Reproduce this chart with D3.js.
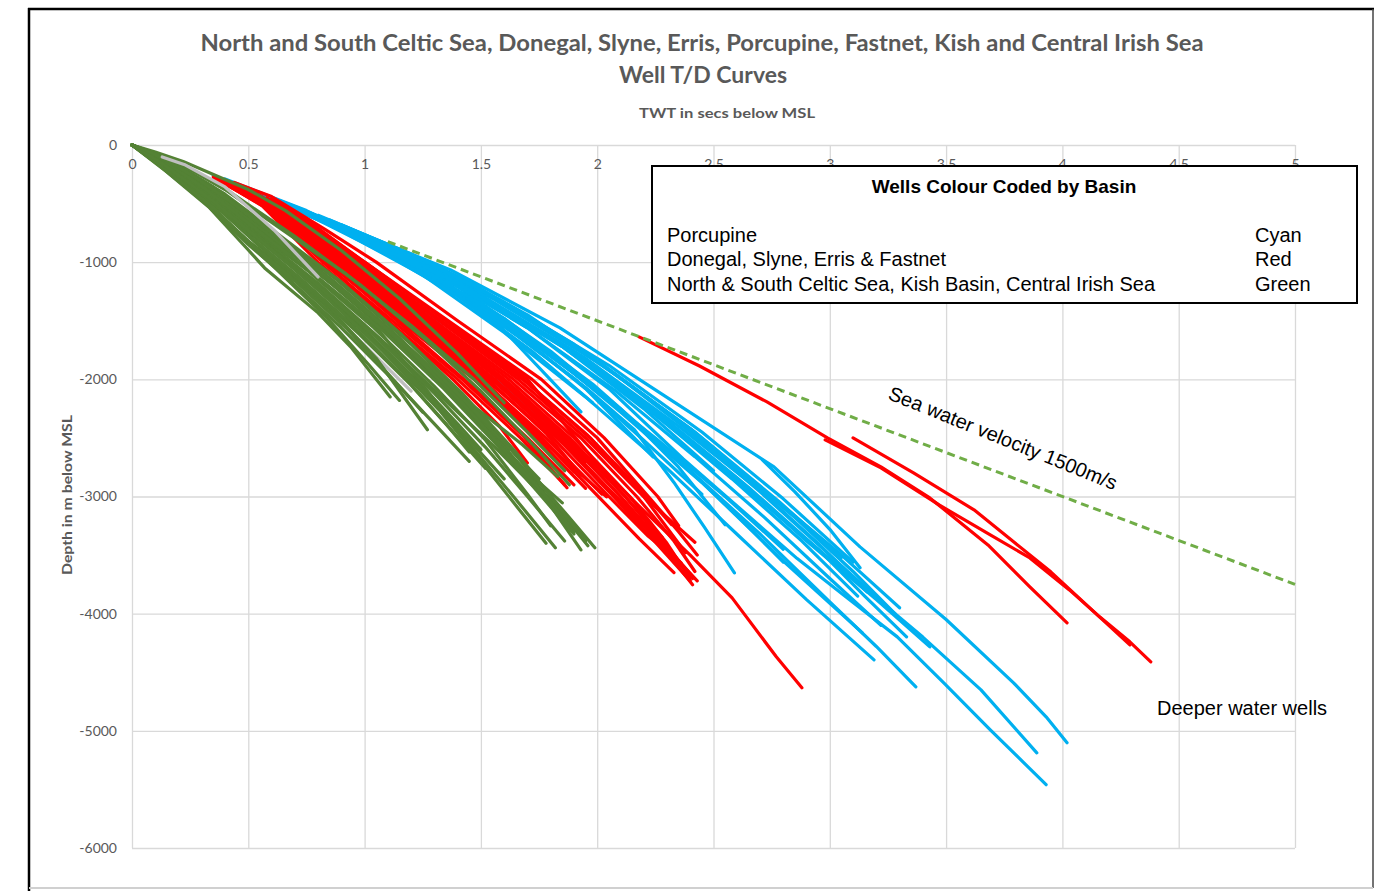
<!DOCTYPE html>
<html>
<head>
<meta charset="utf-8">
<script src="https://cdn.jsdelivr.net/npm/d3@7"></script>
<style>
  html, body { margin: 0; padding: 0; background: #fff; }
  svg { display: block; }
</style>
</head>
<body>
<svg id="chart" width="1389" height="891"></svg>
<script>
// Axis ticks
const xTickValues = [0, 0.5, 1, 1.5, 2, 2.5, 3, 3.5, 4, 4.5, 5];
const xTickLabels = ["0", "0.5", "1", "1.5", "2", "2.5", "3", "3.5", "4", "4.5", "5"];
const yTickValues = [0, -1000, -2000, -3000, -4000, -5000, -6000];
const yTickLabels = ["0", "-1000", "-2000", "-3000", "-4000", "-5000", "-6000"];

// Well time-depth curves: [TWT secs, depth m]
const porcupineWells = [
  [[0.45,-335],[0.7,-525],[0.98,-751],[1.37,-1067],[1.84,-1561],[2.27,-2116],[2.76,-2747],[3.13,-3430],[3.5,-4050],[3.79,-4590],[3.93,-4880],[4.02,-5102]],
  [[0.5,-370],[0.9,-690],[1.3,-1080],[1.7,-1560],[2.05,-2080],[2.37,-2680],[2.67,-3200],[2.86,-3530],[3.07,-3857],[3.29,-4198],[3.49,-4590],[3.69,-4991],[3.93,-5460]],
  [[0.55,-410],[0.95,-730],[1.35,-1110],[1.78,-1620],[2.15,-2150],[2.5,-2700],[2.8,-3200],[3.1,-3700],[3.4,-4200],[3.65,-4650],[3.89,-5188]],
  [[0.5,-380],[0.9,-700],[1.3,-1120],[1.7,-1640],[2.05,-2180],[2.4,-2780],[2.7,-3320],[3.0,-3900],[3.2,-4280],[3.37,-4624]],
  [[0.45,-340],[0.85,-680],[1.25,-1110],[1.6,-1600],[1.95,-2150],[2.3,-2760],[2.6,-3320],[2.9,-3880],[3.19,-4394]],
  [[0.6,-450],[1.0,-780],[1.4,-1180],[1.85,-1700],[2.25,-2280],[2.6,-2840],[2.9,-3380],[3.2,-3880],[3.43,-4283]],
  [[0.65,-490],[1.05,-820],[1.45,-1230],[1.9,-1760],[2.3,-2350],[2.65,-2920],[2.95,-3450],[3.15,-3850],[3.33,-4198]],
  [[0.55,-420],[0.95,-760],[1.35,-1180],[1.75,-1700],[2.1,-2280],[2.45,-2880],[2.8,-3550],[3.14,-4164]],
  [[0.7,-530],[1.1,-860],[1.5,-1280],[1.95,-1820],[2.35,-2400],[2.7,-2950],[2.95,-3400],[3.16,-3814]],
  [[2.71,-2688],[2.85,-2960],[3.0,-3280],[3.13,-3609]],
  [[0.5,-390],[0.9,-720],[1.3,-1140],[1.65,-1620],[1.95,-2070],[2.16,-2430],[2.33,-2880],[2.46,-3260],[2.59,-3652]],
  [[0.6,-460],[1.0,-790],[1.4,-1210],[1.8,-1760],[2.1,-2250],[2.35,-2750],[2.55,-3242]],
  [[0.4,-300],[0.8,-620],[1.2,-1010],[1.55,-1480],[1.93,-2278]],
  [[0.45,-340],[0.85,-660],[1.25,-1060],[1.6,-1520],[1.95,-2080],[2.24,-2662]],
  [[0.35,-260],[0.65,-530],[0.95,-960],[1.25,-1400],[1.55,-1950],[1.84,-2491]],
  [[0.4,-290],[0.75,-560],[1.1,-900],[1.45,-1300],[1.75,-1720]],
  [[0.5,-370],[0.95,-740],[1.4,-1180],[1.85,-1720],[2.2,-2250],[2.5,-2780]],
  [[0.75,-570],[1.15,-900],[1.55,-1310],[2.0,-1850],[2.4,-2420],[2.75,-3000],[3.05,-3500],[3.3,-3950]],
  [[0.85,-640],[1.25,-980],[1.65,-1400],[2.05,-1880],[2.45,-2450],[2.8,-3020],[3.1,-3560]],
  [[0.35,-260],[0.75,-590],[1.15,-990],[1.55,-1470],[1.9,-1990],[2.2,-2520],[2.45,-2980]],
  [[0.9,-680],[1.3,-1020],[1.7,-1450],[2.1,-1990],[2.5,-2600],[2.85,-3180],[3.1,-3640],[3.28,-4000]],
  [[0.6,-450],[1.0,-770],[1.45,-1170],[1.9,-1700],[2.3,-2280],[2.7,-2960],[3.0,-3500],[3.25,-3950]],
  [[0.4,-300],[0.78,-600],[1.15,-950],[1.52,-1400],[1.9,-1950],[2.25,-2500],[2.55,-3000],[2.8,-3450]],
  [[0.55,-410],[0.92,-720],[1.3,-1090],[1.7,-1560],[2.08,-2100],[2.42,-2660],[2.72,-3180],[3.0,-3700],[3.22,-4100]],
  [[0.65,-490],[1.02,-800],[1.42,-1200],[1.85,-1720],[2.25,-2300],[2.58,-2850],[2.88,-3380],[3.12,-3850]],
  [[0.45,-340],[0.82,-640],[1.2,-1000],[1.6,-1480],[1.98,-2040],[2.3,-2600],[2.58,-3120],[2.8,-3560]],
  [[0.8,-600],[1.2,-930],[1.6,-1340],[2.02,-1870],[2.42,-2450],[2.78,-3040],[3.05,-3520]],
  [[0.38,-285],[0.72,-560],[1.05,-880],[1.4,-1290],[1.72,-1760],[1.98,-2200]]
];

const donegalWells = [
  [[0.42,-340],[0.7,-640],[1.0,-1000],[1.35,-1500],[1.7,-2000],[2.01,-2747],[2.2,-3120],[2.4,-3500],[2.58,-3865],[2.77,-4368],[2.88,-4633]],
  [[0.45,-360],[0.65,-580],[0.92,-1000],[1.25,-1500],[1.58,-2000],[1.85,-2480],[2.1,-3000],[2.27,-3400],[2.41,-3754]],
  [[0.5,-400],[0.68,-620],[0.95,-1000],[1.28,-1500],[1.6,-2000],[1.88,-2500],[2.12,-3000],[2.28,-3380],[2.41,-3686]],
  [[0.4,-310],[0.6,-540],[0.88,-1000],[1.2,-1500],[1.52,-2000],[1.8,-2480],[2.05,-3000],[2.22,-3340],[2.36,-3566]],
  [[0.55,-440],[0.72,-660],[0.97,-1000],[1.32,-1500],[1.66,-2000],[1.95,-2500],[2.2,-3000],[2.42,-3390]],
  [[0.38,-300],[0.58,-530],[0.84,-1000],[1.15,-1500],[1.47,-2000],[1.75,-2500],[2.04,-3003]],
  [[0.35,-280],[0.57,-520],[0.82,-1000],[1.12,-1500],[1.42,-2000],[1.68,-2480],[1.87,-2926]],
  [[0.5,-400],[0.66,-600],[0.9,-1000],[1.22,-1500],[1.53,-2000],[1.78,-2460],[1.93,-2816]],
  [[0.4,-320],[0.6,-560],[0.83,-1000],[1.1,-1500],[1.38,-2000],[1.58,-2400],[1.7,-2713]],
  [[0.45,-350],[0.64,-580],[0.9,-1000],[1.22,-1500],[1.55,-2000],[1.82,-2480],[2.07,-3000],[2.25,-3390],[2.4,-3720]],
  [[0.6,-470],[0.74,-650],[0.98,-1000],[1.33,-1500],[1.68,-2000],[1.97,-2500],[2.2,-3000],[2.38,-3480]],
  [[0.5,-380],[0.66,-590],[0.92,-1000],[1.24,-1500],[1.56,-2000],[1.84,-2500],[2.08,-3000],[2.24,-3330],[2.37,-3600]],
  [[0.4,-300],[0.6,-540],[0.86,-1000],[1.17,-1500],[1.36,-1820]],
  [[0.55,-430],[0.7,-620],[0.94,-1000],[1.27,-1500],[1.58,-2000],[1.8,-2400],[1.95,-2700]],
  [[0.35,-270],[0.56,-520],[0.8,-1000],[1.1,-1500],[1.4,-2000],[1.67,-2500],[1.86,-2900]],
  [[0.6,-460],[0.76,-660],[1.0,-1000],[1.36,-1500],[1.72,-2000],[2.0,-2500],[2.22,-3000],[2.35,-3300],[2.43,-3500]],
  [[0.48,-370],[0.66,-600],[0.93,-1000],[1.26,-1500],[1.59,-2000],[1.86,-2480],[2.1,-3000],[2.28,-3400],[2.43,-3720]],
  [[0.44,-320],[0.6,-440],[0.83,-720],[1.05,-1000],[1.4,-1500],[1.76,-2000],[2.03,-2500],[2.26,-3000],[2.35,-3250]],
  [[0.42,-330],[0.62,-570],[0.87,-1000],[1.18,-1500],[1.5,-2000],[1.78,-2500],[2.02,-2980]],
  [[0.52,-400],[0.69,-620],[0.95,-1000],[1.29,-1500],[1.62,-2000],[1.9,-2500],[2.14,-3000],[2.3,-3400],[2.4,-3700]],
  [[0.44,-340],[0.63,-570],[0.89,-1000],[1.2,-1500],[1.5,-1990],[1.74,-2450],[1.9,-2790]],
  [[0.58,-450],[0.72,-630],[0.96,-1000],[1.3,-1500],[1.64,-2000],[1.93,-2500],[2.17,-3000],[2.33,-3380],[2.42,-3640]],
  [[0.4,-300],[0.62,-560],[0.9,-1020],[1.2,-1520],[1.5,-2030],[1.77,-2520],[2.0,-2990],[2.18,-3360],[2.33,-3650]],
  [[0.47,-360],[0.67,-620],[0.94,-1030],[1.26,-1540],[1.58,-2060],[1.86,-2560],[2.1,-3040],[2.3,-3460],[2.41,-3700]],
  [[0.36,-280],[0.58,-540],[0.85,-1010],[1.15,-1520],[1.45,-2040],[1.7,-2500],[1.9,-2900]],
  [[0.53,-410],[0.7,-630],[0.96,-1020],[1.3,-1530],[1.63,-2050],[1.9,-2540],[2.12,-3000],[2.28,-3350]],
  [[0.44,-340],[0.64,-600],[0.91,-1040],[1.22,-1560],[1.52,-2080],[1.76,-2540],[1.95,-2930]],
  [[0.62,-480],[0.78,-680],[1.02,-1030],[1.37,-1530],[1.7,-2030],[1.96,-2480],[2.18,-2930],[2.32,-3240]],
  [[2.18,-1638],[2.44,-1886],[2.73,-2193],[2.99,-2500],[3.22,-2747],[3.43,-3012],[3.68,-3413],[3.86,-3771],[4.02,-4078]],
  [[2.98,-2517],[3.22,-2756],[3.47,-3072],[3.69,-3328],[3.86,-3524],[4.03,-3797],[4.16,-4027],[4.29,-4240],[4.38,-4411]],
  [[3.1,-2500],[3.36,-2799],[3.62,-3114],[3.79,-3387],[3.95,-3643],[4.15,-4010],[4.29,-4266]]
];

const celticWells = [
  [[0,0],[0.15,-230],[0.33,-529],[0.5,-896],[0.57,-1049],[0.8,-1433],[0.94,-1723],[1.11,-2150]],
  [[0,0],[0.12,-170],[0.3,-450],[0.5,-820],[0.62,-1000],[0.85,-1400],[1.05,-1820],[1.27,-2430]],
  [[0,0],[0.14,-150],[0.35,-450],[0.55,-790],[0.67,-1000],[0.95,-1480],[1.22,-2000],[1.4,-2380],[1.5,-2600]],
  [[0,0],[0.15,-130],[0.36,-440],[0.6,-850],[0.75,-1050],[1.06,-1578],[1.23,-2000],[1.45,-2550],[1.64,-3000],[1.82,-3438]],
  [[0,0],[0.1,-90],[0.3,-330],[0.55,-720],[0.8,-1080],[1.1,-1560],[1.4,-2120],[1.65,-2700],[1.8,-3080],[1.93,-3455]],
  [[0,0],[0.12,-100],[0.32,-350],[0.58,-760],[0.85,-1150],[1.15,-1650],[1.45,-2250],[1.7,-2800],[1.85,-3150],[1.96,-3420]],
  [[0,0],[0.15,-120],[0.35,-360],[0.6,-740],[0.88,-1150],[1.2,-1700],[1.5,-2300],[1.75,-2880],[1.88,-3180],[1.99,-3438]],
  [[0,0],[0.13,-120],[0.33,-380],[0.57,-760],[0.82,-1120],[1.1,-1600],[1.38,-2150],[1.62,-2650],[1.85,-3054]],
  [[0,0],[0.1,-100],[0.3,-350],[0.56,-720],[0.84,-1140],[1.14,-1640],[1.45,-2200],[1.68,-2560],[1.83,-2830]],
  [[0,0],[0.14,-160],[0.34,-450],[0.58,-830],[0.8,-1180],[1.06,-1640],[1.32,-2130],[1.55,-2560],[1.72,-2900]],
  [[0,0],[0.18,-130],[0.4,-380],[0.65,-730],[0.92,-1100],[1.2,-1540],[1.47,-2000],[1.7,-2450],[1.86,-2780]],
  [[0,0],[0.1,-60],[0.22,-140],[0.36,-260],[0.5,-380],[0.66,-560],[0.9,-900],[1.15,-1310],[1.4,-1780],[1.6,-2200]],
  [[0,0],[0.12,-140],[0.3,-400],[0.5,-740],[0.7,-1060],[0.95,-1500],[1.2,-1980],[1.4,-2400]],
  [[0,0],[0.16,-200],[0.36,-520],[0.54,-850],[0.75,-1200],[0.98,-1620],[1.2,-2050],[1.38,-2450],[1.52,-2760]],
  [[0,0],[0.11,-110],[0.28,-330],[0.5,-680],[0.76,-1080],[1.04,-1560],[1.3,-2060],[1.52,-2520],[1.7,-2980],[1.8,-3250]],
  [[0,0],[0.17,-160],[0.38,-440],[0.62,-810],[0.9,-1230],[1.18,-1720],[1.45,-2240],[1.62,-2600]],
  [[0,0],[0.13,-170],[0.32,-460],[0.52,-800],[0.72,-1130],[0.96,-1560],[1.18,-2000],[1.35,-2380],[1.45,-2620]],
  [[0,0],[0.15,-150],[0.36,-420],[0.62,-820],[0.88,-1220],[1.15,-1680],[1.4,-2150],[1.6,-2580],[1.76,-2950],[1.9,-3300]],
  [[0,0],[0.2,-150],[0.42,-400],[0.7,-780],[0.98,-1190],[1.25,-1640],[1.5,-2100],[1.72,-2550],[1.88,-2900]],
  [[0,0],[0.12,-180],[0.3,-470],[0.48,-800],[0.62,-1060],[0.84,-1480],[1.02,-1880],[1.15,-2180]],
  [[0,0],[0.16,-180],[0.38,-500],[0.6,-880],[0.82,-1260],[1.08,-1760],[1.32,-2260],[1.5,-2700],[1.66,-3100],[1.78,-3400]],
  [[0,0],[0.14,-130],[0.34,-400],[0.6,-780],[0.86,-1180],[1.12,-1620],[1.38,-2100],[1.58,-2500],[1.75,-2850]],
  [[0,0],[0.13,-190],[0.32,-500],[0.5,-850],[0.66,-1120],[0.9,-1560],[1.12,-2000],[1.3,-2380],[1.45,-2700]],
  [[0,0],[0.15,-210],[0.34,-520],[0.52,-860],[0.7,-1160],[0.92,-1560],[1.1,-1950],[1.25,-2280]],
  [[0,0],[0.11,-130],[0.3,-420],[0.54,-800],[0.78,-1170],[1.05,-1640],[1.3,-2120],[1.52,-2580],[1.7,-3000],[1.86,-3380]],
  [[0,0],[0.17,-140],[0.4,-420],[0.64,-780],[0.9,-1170],[1.16,-1620],[1.42,-2120],[1.65,-2620],[1.84,-3100],[1.95,-3380]],
  [[0,0],[0.12,-110],[0.31,-370],[0.56,-760],[0.8,-1130],[1.08,-1590],[1.34,-2080],[1.56,-2540],[1.74,-2950],[1.9,-3320]],
  [[0,0],[0.19,-170],[0.4,-440],[0.63,-800],[0.86,-1150],[1.1,-1560],[1.35,-2020],[1.55,-2420]],
  [[0,0],[0.14,-170],[0.35,-480],[0.58,-860],[0.78,-1200],[1.02,-1640],[1.25,-2100],[1.45,-2520],[1.6,-2850]],
  [[0,0],[0.1,-80],[0.26,-260],[0.45,-520],[0.66,-840],[0.92,-1260],[1.18,-1720],[1.42,-2200],[1.62,-2650],[1.78,-3000]]
];

const greyWellsUnder = [
  [[0.3,-400],[0.55,-800],[0.74,-1210],[0.85,-1433],[0.99,-1690],[1.2,-2100]]
];
const greyWellsOver = [
  [[0.13,-102],[0.23,-171],[0.4,-358],[0.61,-725],[0.8,-1126]]
];

// 1500 m/s sea water line
const seaWaterLine = [[1.1,-825],[5.0,-3750]];

const legendTitle = "Wells Colour Coded by Basin";
const legendRows = [
  ["Porcupine", "Cyan"],
  ["Donegal, Slyne, Erris & Fastnet", "Red"],
  ["North & South Celtic Sea, Kish Basin, Central Irish Sea", "Green"]
];

const titleLines = [
  "North and South Celtic Sea, Donegal, Slyne, Erris, Porcupine, Fastnet, Kish and Central Irish Sea",
  "Well T/D Curves"
];

const colors = {
  porcupine: "#00B0F0",
  donegal: "#FF0000",
  celtic: "#548235",
  grey: "#BFBFBF",
  sea: "#70AD47",
  grid: "#D9D9D9",
  text: "#595959"
};

const svg = d3.select("#chart");

// frame
svg.append("rect").attr("x", 0).attr("y", 0).attr("width", 1389).attr("height", 891).attr("fill", "#fff");
svg.append("line").attr("x1", 28).attr("y1", 9).attr("x2", 1374).attr("y2", 9).attr("stroke", "#000").attr("stroke-width", 2.5);
svg.append("line").attr("x1", 29).attr("y1", 8).attr("x2", 29).attr("y2", 891).attr("stroke", "#000").attr("stroke-width", 2.5);
svg.append("line").attr("x1", 1373).attr("y1", 9).attr("x2", 1373).attr("y2", 888).attr("stroke", "#444").attr("stroke-width", 1.5);
svg.append("line").attr("x1", 29).attr("y1", 888).attr("x2", 1373).attr("y2", 888).attr("stroke", "#D0D0D0").attr("stroke-width", 2);

const x = d3.scaleLinear().domain([0, 5]).range([132, 1295]);
const y = d3.scaleLinear().domain([0, -6000]).range([145, 848]);

// grid
const gridX = d3.axisBottom(x).tickValues(xTickValues).tickSize(y(-6000) - y(0)).tickFormat("");
svg.append("g").attr("transform", `translate(0,${y(0)})`).call(gridX)
  .call(g => g.select(".domain").remove())
  .call(g => g.selectAll("line").attr("stroke", colors.grid).attr("stroke-width", 1.3));
const gridY = d3.axisRight(y).tickValues(yTickValues).tickSize(x(5) - x(0)).tickFormat("");
svg.append("g").attr("transform", `translate(${x(0)},0)`).call(gridY)
  .call(g => g.select(".domain").remove())
  .call(g => g.selectAll("line").attr("stroke", colors.grid).attr("stroke-width", 1.3));

// tick labels
const xAxis = d3.axisBottom(x).tickValues(xTickValues).tickSize(0).tickPadding(14)
  .tickFormat((d, i) => xTickLabels[i]);
svg.append("g").attr("transform", `translate(0,${y(0)})`).call(xAxis)
  .call(g => g.select(".domain").remove())
  .call(g => g.selectAll("text").attr("fill", colors.text).attr("font-family", "Lato, 'Open Sans', sans-serif").attr("font-size", 14));
const yAxis = d3.axisLeft(y).tickValues(yTickValues).tickSize(0).tickPadding(15)
  .tickFormat((d, i) => yTickLabels[i]);
svg.append("g").attr("transform", `translate(${x(0)},0)`).call(yAxis)
  .call(g => g.select(".domain").remove())
  .call(g => g.selectAll("text").attr("fill", colors.text).attr("font-family", "Lato, 'Open Sans', sans-serif").attr("font-size", 14));

// curves
const line = d3.line().x(d => x(d[0])).y(d => y(d[1]));
function drawWells(data, color, width) {
  svg.append("g").selectAll("path").data(data).join("path")
    .attr("d", line)
    .attr("fill", "none")
    .attr("stroke", color)
    .attr("stroke-width", width)
    .attr("stroke-linejoin", "round")
    .attr("stroke-linecap", "round");
}
drawWells(porcupineWells, colors.porcupine, 3.2);
drawWells(donegalWells, colors.donegal, 3.2);
drawWells(greyWellsUnder, colors.grey, 3.2);
drawWells(celticWells, colors.celtic, 3.2);
drawWells(greyWellsOver, colors.grey, 3.2);

svg.append("path").datum(seaWaterLine).attr("d", line)
  .attr("fill", "none").attr("stroke", colors.sea).attr("stroke-width", 3)
  .attr("stroke-dasharray", "8,5");

// titles
const titleFont = "Lato, 'Open Sans', sans-serif";
svg.append("text").attr("x", 702).attr("y", 51).attr("text-anchor", "middle")
  .attr("font-family", titleFont).attr("font-weight", "bold").attr("font-size", 22)
  .attr("fill", colors.text).attr("textLength", 1003).attr("lengthAdjust", "spacingAndGlyphs")
  .text(titleLines[0]);
svg.append("text").attr("x", 703).attr("y", 83).attr("text-anchor", "middle")
  .attr("font-family", titleFont).attr("font-weight", "bold").attr("font-size", 22)
  .attr("fill", colors.text).attr("textLength", 168).attr("lengthAdjust", "spacingAndGlyphs")
  .text(titleLines[1]);
svg.append("text").attr("x", 727).attr("y", 118).attr("text-anchor", "middle")
  .attr("font-family", titleFont).attr("font-weight", "bold").attr("font-size", 14)
  .attr("fill", colors.text).attr("textLength", 176).attr("lengthAdjust", "spacingAndGlyphs")
  .text("TWT in secs below MSL");
svg.append("text").attr("transform", "translate(72,495) rotate(-90)").attr("text-anchor", "middle")
  .attr("font-family", titleFont).attr("font-weight", "bold").attr("font-size", 14)
  .attr("fill", colors.text).attr("textLength", 160).attr("lengthAdjust", "spacingAndGlyphs")
  .text("Depth in m below MSL");

// legend box
const lg = svg.append("g");
lg.append("rect").attr("x", 652).attr("y", 166).attr("width", 705).attr("height", 137)
  .attr("fill", "#fff").attr("stroke", "#000").attr("stroke-width", 2);
const arial = "'Liberation Sans', Arial, sans-serif";
lg.append("text").attr("x", 1004).attr("y", 193).attr("text-anchor", "middle")
  .attr("font-family", arial).attr("font-weight", "bold").attr("font-size", 19).attr("fill", "#000")
  .text(legendTitle);
const rowY = [242, 266, 291];
legendRows.forEach((r, i) => {
  lg.append("text").attr("x", 667).attr("y", rowY[i]).attr("font-family", arial)
    .attr("font-size", 20).attr("fill", "#000").text(r[0]);
  lg.append("text").attr("x", 1255).attr("y", rowY[i]).attr("font-family", arial)
    .attr("font-size", 20).attr("fill", "#000").text(r[1]);
});

// annotations
svg.append("text").attr("transform", "translate(1003,438) rotate(22)").attr("text-anchor", "middle")
  .attr("dominant-baseline", "central")
  .attr("font-family", arial).attr("font-size", 20).attr("fill", "#000")
  .text("Sea water velocity 1500m/s");
svg.append("text").attr("x", 1157).attr("y", 715).attr("font-family", arial)
  .attr("font-size", 20).attr("fill", "#000").text("Deeper water wells");
</script>
</body>
</html>
